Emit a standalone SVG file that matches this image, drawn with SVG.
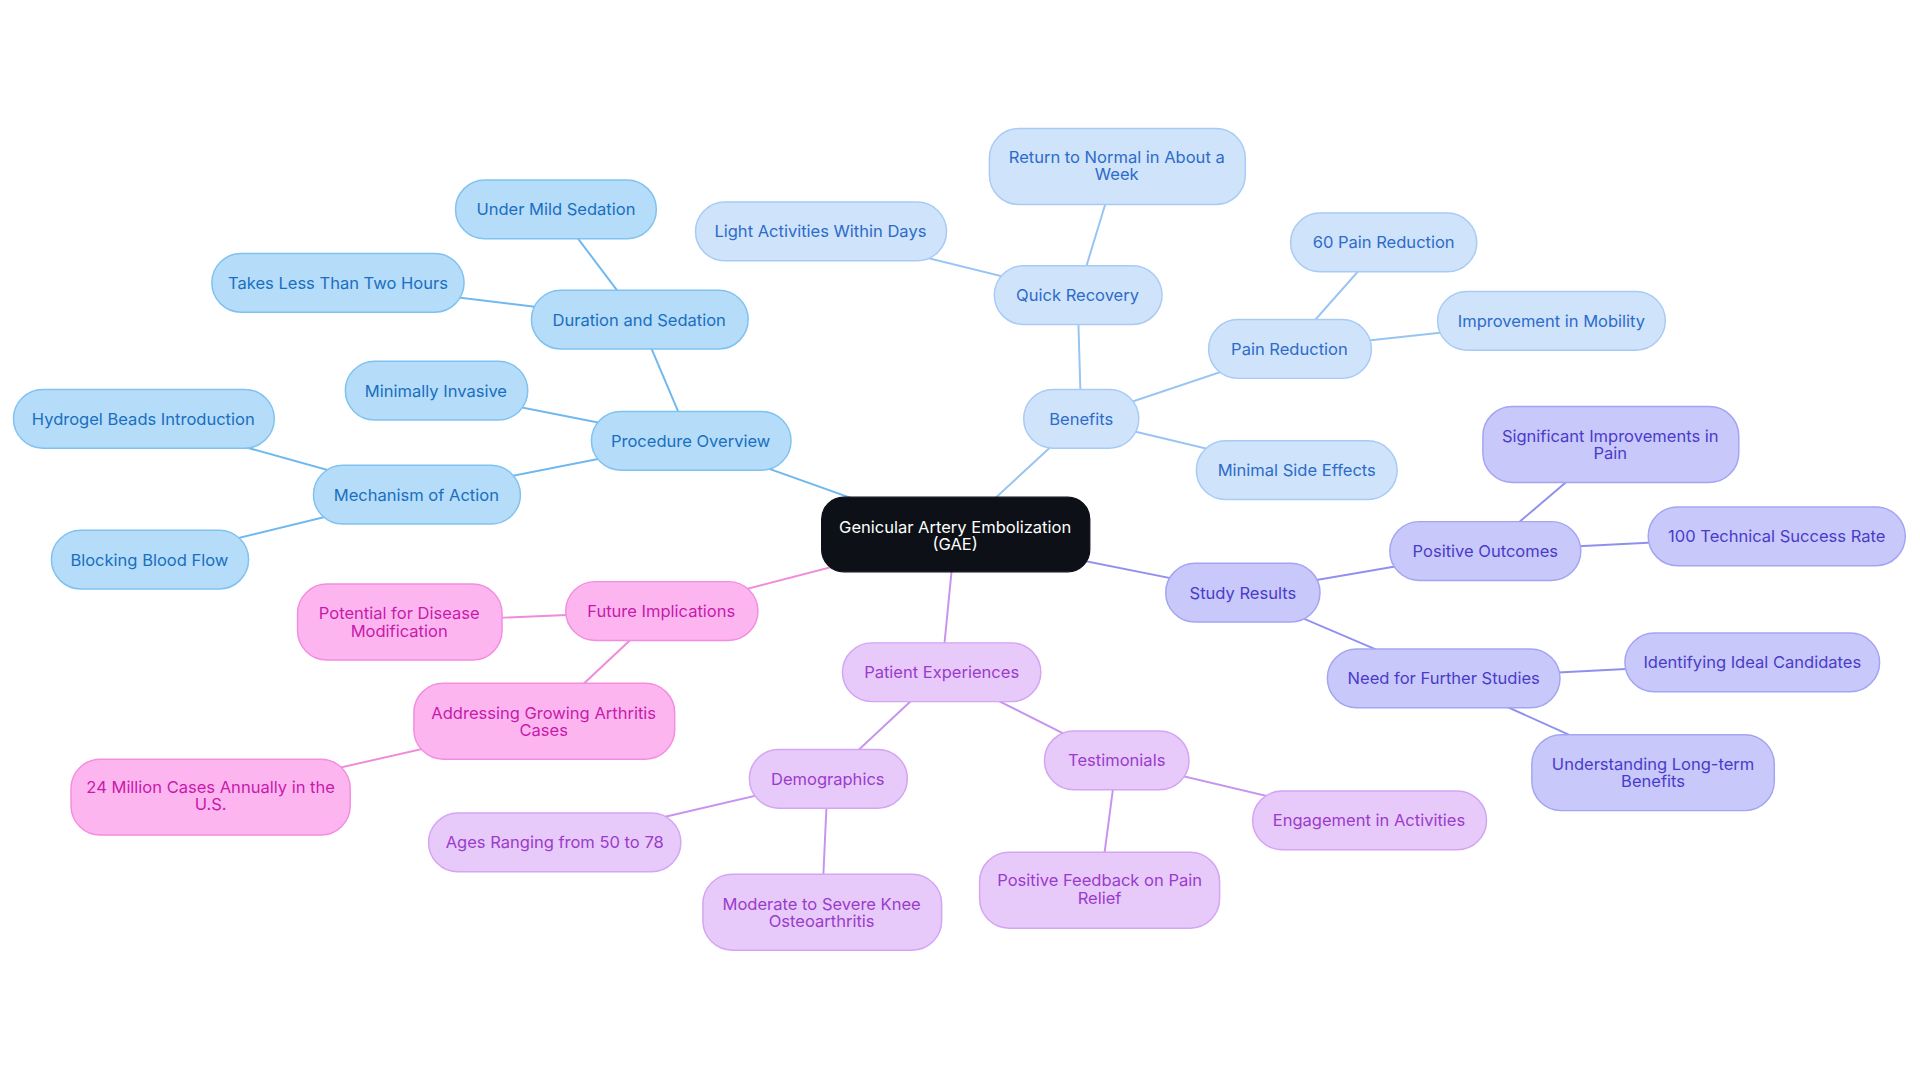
<svg xmlns="http://www.w3.org/2000/svg" width="1920" height="1083" viewBox="0 0 1920 1083">
<style>
text{font-family:Inter,"Liberation Sans",sans-serif;font-size:13.5px;text-anchor:middle;dominant-baseline:central}
.c0 rect{fill:#0d1117;stroke:#0d1117}.c0 text{fill:#fff}
.c1 rect{fill:#b5dcf9;stroke:#80c2f0;stroke-width:1.2}.c1 text{fill:#1a6fc0}
.c2 rect{fill:#cfe3fb;stroke:#a8cbf5;stroke-width:1.2}.c2 text{fill:#2d6cc9}
.c3 rect{fill:#c8c8fa;stroke:#a4a5f2;stroke-width:1.2}.c3 text{fill:#4a3cc9}
.c4 rect{fill:#e7c9fa;stroke:#d3a5f2;stroke-width:1.2}.c4 text{fill:#9a3ccb}
.c5 rect{fill:#fdb5f0;stroke:#f28ee0;stroke-width:1.2}.c5 text{fill:#c81aab}
#edges line{stroke-width:1.6}
.e1{stroke:#6fb8ee}.e2{stroke:#98c4f3}.e3{stroke:#8f90ee}.e4{stroke:#c793ef}.e5{stroke:#f08ad9}
</style>
<rect width="1920" height="1083" fill="#fff"/>
<g transform="scale(1.2245)">
<g id="edges">
<line class="e1" x1="780" y1="437" x2="564" y2="360"/>
<line class="e1" x1="564" y1="360" x2="522" y2="261"/>
<line class="e1" x1="522" y1="261" x2="454" y2="171"/>
<line class="e1" x1="522" y1="261" x2="276" y2="231"/>
<line class="e1" x1="564" y1="360" x2="356" y2="319"/>
<line class="e1" x1="564" y1="360" x2="340" y2="404"/>
<line class="e1" x1="340" y1="404" x2="117" y2="342"/>
<line class="e1" x1="340" y1="404" x2="122" y2="457"/>
<line class="e2" x1="780" y1="437" x2="883" y2="342"/>
<line class="e2" x1="883" y1="342" x2="880" y2="241"/>
<line class="e2" x1="880" y1="241" x2="912" y2="136"/>
<line class="e2" x1="880" y1="241" x2="670" y2="189"/>
<line class="e2" x1="883" y1="342" x2="1053" y2="285"/>
<line class="e2" x1="1053" y1="285" x2="1130" y2="198"/>
<line class="e2" x1="1053" y1="285" x2="1267" y2="262"/>
<line class="e2" x1="883" y1="342" x2="1059" y2="384"/>
<line class="e3" x1="780" y1="437" x2="1015" y2="484"/>
<line class="e3" x1="1015" y1="484" x2="1213" y2="450"/>
<line class="e3" x1="1213" y1="450" x2="1315" y2="363"/>
<line class="e3" x1="1213" y1="450" x2="1451" y2="438"/>
<line class="e3" x1="1015" y1="484" x2="1179" y2="554"/>
<line class="e3" x1="1179" y1="554" x2="1431" y2="541"/>
<line class="e3" x1="1179" y1="554" x2="1350" y2="631"/>
<line class="e4" x1="780" y1="437" x2="769" y2="549"/>
<line class="e4" x1="769" y1="549" x2="676" y2="636"/>
<line class="e4" x1="676" y1="636" x2="453" y2="688"/>
<line class="e4" x1="676" y1="636" x2="671" y2="745"/>
<line class="e4" x1="769" y1="549" x2="912" y2="621"/>
<line class="e4" x1="912" y1="621" x2="1118" y2="670"/>
<line class="e4" x1="912" y1="621" x2="898" y2="727"/>
<line class="e5" x1="780" y1="437" x2="540" y2="499"/>
<line class="e5" x1="540" y1="499" x2="326" y2="508"/>
<line class="e5" x1="540" y1="499" x2="444" y2="589"/>
<line class="e5" x1="444" y1="589" x2="172" y2="651"/>
</g>
<g id="n0" class="c0"><rect x="671" y="406" width="219" height="61" rx="18"/><text x="780" y="430">Genicular Artery Embolization</text><text x="780" y="444">(GAE)</text></g>
<g id="n1" class="c1"><rect x="483" y="336" width="163" height="48" rx="24"/><text x="564" y="360">Procedure Overview</text></g>
<g id="n2" class="c1"><rect x="434" y="237" width="177" height="48" rx="24"/><text x="522" y="261">Duration and Sedation</text></g>
<g id="n3" class="c1"><rect x="372" y="147" width="164" height="48" rx="24"/><text x="454" y="171">Under Mild Sedation</text></g>
<g id="n4" class="c1"><rect x="173" y="207" width="206" height="48" rx="24"/><text x="276" y="231">Takes Less Than Two Hours</text></g>
<g id="n5" class="c1"><rect x="282" y="295" width="149" height="48" rx="24"/><text x="356" y="319">Minimally Invasive</text></g>
<g id="n6" class="c1"><rect x="256" y="380" width="169" height="48" rx="24"/><text x="340" y="404">Mechanism of Action</text></g>
<g id="n7" class="c1"><rect x="11" y="318" width="213" height="48" rx="24"/><text x="117" y="342">Hydrogel Beads Introduction</text></g>
<g id="n8" class="c1"><rect x="42" y="433" width="161" height="48" rx="24"/><text x="122" y="457">Blocking Blood Flow</text></g>
<g id="n9" class="c2"><rect x="836" y="318" width="94" height="48" rx="24"/><text x="883" y="342">Benefits</text></g>
<g id="n10" class="c2"><rect x="812" y="217" width="137" height="48" rx="24"/><text x="880" y="241">Quick Recovery</text></g>
<g id="n11" class="c2"><rect x="808" y="105" width="209" height="62" rx="24"/><text x="912" y="128">Return to Normal in About a</text><text x="912" y="142">Week</text></g>
<g id="n12" class="c2"><rect x="568" y="165" width="205" height="48" rx="24"/><text x="670" y="189">Light Activities Within Days</text></g>
<g id="n13" class="c2"><rect x="987" y="261" width="133" height="48" rx="24"/><text x="1053" y="285">Pain Reduction</text></g>
<g id="n14" class="c2"><rect x="1054" y="174" width="152" height="48" rx="24"/><text x="1130" y="198">60 Pain Reduction</text></g>
<g id="n15" class="c2"><rect x="1174" y="238" width="186" height="48" rx="24"/><text x="1267" y="262">Improvement in Mobility</text></g>
<g id="n16" class="c2"><rect x="977" y="360" width="164" height="48" rx="24"/><text x="1059" y="384">Minimal Side Effects</text></g>
<g id="n17" class="c3"><rect x="952" y="460" width="126" height="48" rx="24"/><text x="1015" y="484">Study Results</text></g>
<g id="n18" class="c3"><rect x="1135" y="426" width="156" height="48" rx="24"/><text x="1213" y="450">Positive Outcomes</text></g>
<g id="n19" class="c3"><rect x="1211" y="332" width="209" height="62" rx="24"/><text x="1315" y="356">Significant Improvements in</text><text x="1315" y="370">Pain</text></g>
<g id="n20" class="c3"><rect x="1346" y="414" width="210" height="48" rx="24"/><text x="1451" y="438">100 Technical Success Rate</text></g>
<g id="n21" class="c3"><rect x="1084" y="530" width="190" height="48" rx="24"/><text x="1179" y="554">Need for Further Studies</text></g>
<g id="n22" class="c3"><rect x="1327" y="517" width="208" height="48" rx="24"/><text x="1431" y="541">Identifying Ideal Candidates</text></g>
<g id="n23" class="c3"><rect x="1251" y="600" width="198" height="62" rx="24"/><text x="1350" y="624">Understanding Long-term</text><text x="1350" y="638">Benefits</text></g>
<g id="n24" class="c4"><rect x="688" y="525" width="162" height="48" rx="24"/><text x="769" y="549">Patient Experiences</text></g>
<g id="n25" class="c4"><rect x="612" y="612" width="129" height="48" rx="24"/><text x="676" y="636">Demographics</text></g>
<g id="n26" class="c4"><rect x="350" y="664" width="206" height="48" rx="24"/><text x="453" y="688">Ages Ranging from 50 to 78</text></g>
<g id="n27" class="c4"><rect x="574" y="714" width="195" height="62" rx="24"/><text x="671" y="738">Moderate to Severe Knee</text><text x="671" y="752">Osteoarthritis</text></g>
<g id="n28" class="c4"><rect x="853" y="597" width="118" height="48" rx="24"/><text x="912" y="621">Testimonials</text></g>
<g id="n29" class="c4"><rect x="1023" y="646" width="191" height="48" rx="24"/><text x="1118" y="670">Engagement in Activities</text></g>
<g id="n30" class="c4"><rect x="800" y="696" width="196" height="62" rx="24"/><text x="898" y="719">Positive Feedback on Pain</text><text x="898" y="733">Relief</text></g>
<g id="n31" class="c5"><rect x="462" y="475" width="157" height="48" rx="24"/><text x="540" y="499">Future Implications</text></g>
<g id="n32" class="c5"><rect x="243" y="477" width="167" height="62" rx="24"/><text x="326" y="501">Potential for Disease</text><text x="326" y="515">Modification</text></g>
<g id="n33" class="c5"><rect x="338" y="558" width="213" height="62" rx="24"/><text x="444" y="582">Addressing Growing Arthritis</text><text x="444" y="596">Cases</text></g>
<g id="n34" class="c5"><rect x="58" y="620" width="228" height="62" rx="24"/><text x="172" y="643">24 Million Cases Annually in the</text><text x="172" y="657">U.S.</text></g>
</g>
</svg>
